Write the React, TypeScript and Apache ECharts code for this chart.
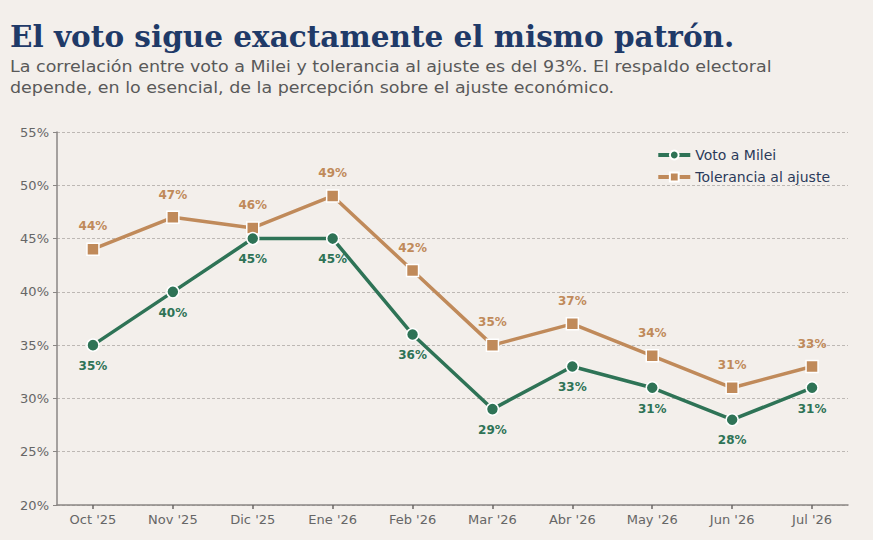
import React, { useEffect, useRef } from "react";
import * as echarts from "echarts";

const categories = ["Oct '25", "Nov '25", "Dic '25", "Ene '26", "Feb '26", "Mar '26", "Abr '26", "May '26", "Jun '26", "Jul '26"];
const votoMilei = [35, 40, 45, 45, 36, 29, 33, 31, 28, 31];
const toleranciaAjuste = [44, 47, 46, 49, 42, 35, 37, 34, 31, 33];
const yTicks = [20, 25, 30, 35, 40, 45, 50, 55];

const titleText = "El voto sigue exactamente el mismo patrón.";
const subtitleLines = [
  "La correlación entre voto a Milei y tolerancia al ajuste es del 93%. El respaldo electoral",
  "depende, en lo esencial, de la percepción sobre el ajuste económico.",
];

const GREEN = "#2e7356";
const TAN = "#c08a5a";

export default function App() {
  const ref = useRef<HTMLDivElement>(null);
  useEffect(() => {
    if (!ref.current) return;
    const chart = echarts.init(ref.current, null, { renderer: "svg" });
    const idx = categories.map((_, i) => i);
    chart.setOption({
      animation: false,
      backgroundColor: "#f3efeb",
      graphic: [
        {
          type: "text",
          left: 10,
          top: 21,
          style: {
            text: titleText,
            fontFamily: "DejaVu Serif",
            fontWeight: "bold",
            fontSize: 29.5,
            fill: "#1f3a68",
          },
        },
        {
          type: "text",
          x: 10,
          y: 58,
          scaleX: 1.06,
          style: {
            text: subtitleLines[0],
            fontFamily: "DejaVu Sans",
            fontSize: 16.5,
            fill: "#595959",
          },
        },
        {
          type: "text",
          x: 10,
          y: 78.5,
          scaleX: 1.06,
          style: {
            text: subtitleLines[1],
            fontFamily: "DejaVu Sans",
            fontSize: 16.5,
            fill: "#595959",
          },
        },
      ],
      legend: {
        orient: "vertical",
        right: 38,
        top: 143,
        itemWidth: 32,
        itemHeight: 11,
        itemGap: 8,
        lineStyle: { width: 4 },
        textStyle: { fontFamily: "DejaVu Sans", fontSize: 14, color: "#2b3a5a" },
        data: ["Voto a Milei", "Tolerancia al ajuste"],
      },
      grid: { left: 57, right: 25, top: 132, bottom: 35 },
      xAxis: {
        type: "value",
        min: -0.45,
        max: 9.45,
        axisLine: { show: true, onZero: false, lineStyle: { color: "#8a8684", width: 1.5 } },
        axisTick: { show: true, customValues: idx, length: 4, lineStyle: { color: "#6a6664", width: 1.5 } },
        axisLabel: {
          customValues: idx,
          formatter: (v: number) => categories[Math.round(v)] ?? "",
          fontFamily: "DejaVu Sans",
          fontSize: 13,
          color: "#666",
          margin: 8,
        },
        splitLine: { show: false },
      },
      yAxis: {
        type: "value",
        min: 20,
        max: 55,
        interval: 5,
        axisLine: { show: true, onZero: false, lineStyle: { color: "#8a8684", width: 1.5 } },
        axisTick: { show: true, length: 4, lineStyle: { color: "#8a8684" } },
        axisLabel: {
          formatter: (v: number) => (yTicks.includes(v) ? v + "%" : ""),
          fontFamily: "DejaVu Sans",
          fontSize: 13,
          color: "#666",
          margin: 8,
        },
        splitLine: { show: true, lineStyle: { color: "#bdb8b4", type: [3, 2], width: 1 } },
      },
      series: [
        {
          name: "Voto a Milei",
          type: "line",
          data: votoMilei.map((v, i) => [i, v]),
          symbol: "circle",
          symbolSize: 12,
          lineStyle: { color: GREEN, width: 3.5 },
          itemStyle: { color: GREEN, borderColor: "#ffffff", borderWidth: 1.5 },
          label: {
            show: true,
            position: "bottom",
            distance: 8,
            formatter: (p: any) => p.value[1] + "%",
            fontFamily: "DejaVu Sans",
            fontWeight: "bold",
            fontSize: 12,
            color: GREEN,
          },
          z: 3,
        },
        {
          name: "Tolerancia al ajuste",
          type: "line",
          data: toleranciaAjuste.map((v, i) => [i, v]),
          symbol: "rect",
          symbolSize: 12,
          lineStyle: { color: TAN, width: 3.5 },
          itemStyle: { color: TAN, borderColor: "#ffffff", borderWidth: 1.5 },
          label: {
            show: true,
            position: "top",
            distance: 10,
            formatter: (p: any) => p.value[1] + "%",
            fontFamily: "DejaVu Sans",
            fontWeight: "bold",
            fontSize: 12,
            color: TAN,
          },
          z: 2,
        },
      ],
    });
    return () => chart.dispose();
  }, []);
  return <div ref={ref} style={{ width: 873, height: 540, position: "absolute", left: 0, top: 0 }} />;
}
